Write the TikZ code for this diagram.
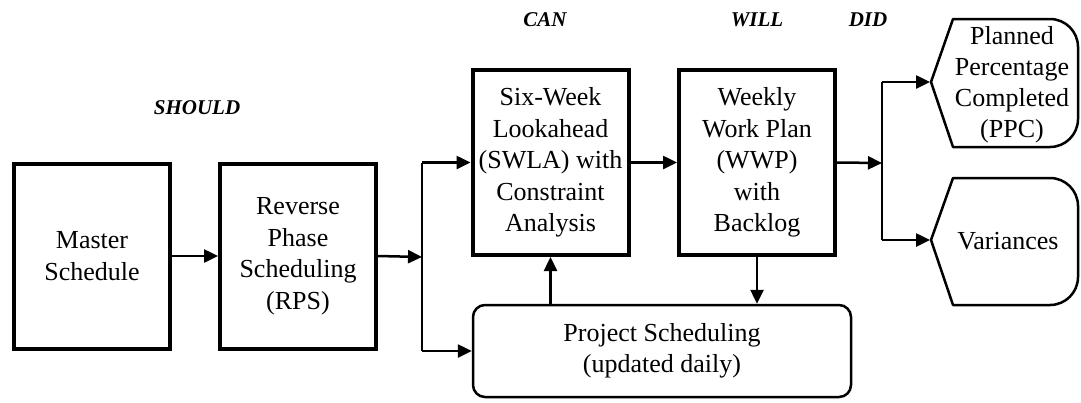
\documentclass[tikz,border=0pt]{standalone}
\usepackage{fontspec}
\setmainfont{Liberation Serif}
\usetikzlibrary{arrows.meta}
\begin{document}
\begin{tikzpicture}[x=1pt,y=-1pt,
  txt/.style={font=\fontsize{26}{31.5}\selectfont, align=center, inner sep=0pt},
  box/.style={txt, draw, line width=4pt, minimum width=156pt, minimum height=185pt},
  rbox/.style={txt, draw, line width=2.5pt, rounded corners=12pt, minimum width=378pt, minimum height=92pt},
  hexa/.style={draw, line width=2.5pt, line join=round},
  lbl/.style={font=\fontsize{21}{24}\selectfont\bfseries\itshape, inner sep=0pt},
  conn/.style={line width=2.5pt, -{Triangle[length=14pt,width=13pt]}},
  line/.style={line width=2.5pt}
]
\useasboundingbox (0,0) rectangle (1081,402);
% boxes
\node[box] (ms) at (92,256) {Master\\Schedule};
\node[box] (rps) at (298,256) {Reverse\\Phase\\Scheduling\\(RPS)};
\node[box] (swla) at (550.5,162.5) {Six-Week\\Lookahead\\(SWLA) with\\Constraint\\Analysis};
\node[box] (wwp) at (757,162.5) {Weekly\\Work Plan\\(WWP)\\with\\Backlog};
\node[rbox] (ps) at (662,351) {Project Scheduling\\(updated daily)};
% output shapes
\draw[hexa] (931,82) -- (953,19) {[rounded corners=28pt] -- (1078,19) -- (1078,147)} -- (953,147) -- cycle;
\draw[hexa] (931,240) -- (953,178) {[rounded corners=28pt] -- (1078,178) -- (1078,305)} -- (953,305) -- cycle;
\coordinate (ppcw) at (930,82);
\coordinate (varw) at (930,240);
\node[txt, font=\fontsize{26}{31}\selectfont] (ppc) at (1012,85) {Planned\\Percentage\\Completed\\(PPC)};
\node[txt] (var) at (1008,241) {Variances};
% labels
\node[lbl] (should) at (197,108) {SHOULD};
\node[lbl] (can) at (545,20) {CAN};
\node[lbl] (will) at (757,20) {WILL};
\node[lbl] (did) at (868,20) {DID};
% junctions
\coordinate (j1) at (422,257);
\coordinate (j2) at (882,163);
% connectors
\draw[conn] (ms.east) -- (rps.west);
\draw[conn] (rps.east) -- (j1);
\draw[line] (j1 |- swla.west) -- (j1 |- ps.west);
\draw[conn] (j1 |- swla.west) -- (swla.west);
\draw[conn] (j1 |- ps.west) -- (ps.west);
\draw[conn] (swla.south |- ps.north) -- (swla.south);
\draw[conn] (swla.east) -- (wwp.west);
\draw[conn] (wwp.south) -- (wwp.south |- ps.north);
\draw[conn] (wwp.east) -- (j2);
\draw[line] (j2 |- ppcw) -- (j2 |- varw);
\draw[conn] (j2 |- ppcw) -- (ppcw);
\draw[conn] (j2 |- varw) -- (varw);
\end{tikzpicture}
\end{document}
